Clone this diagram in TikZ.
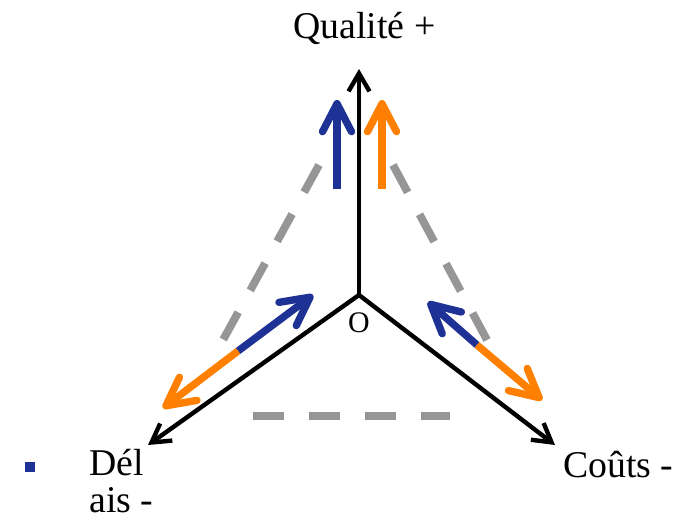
\documentclass[tikz,border=0pt]{standalone}
\usepackage{fontspec}
\setmainfont{Liberation Serif}
\usetikzlibrary{arrows.meta,positioning}
\definecolor{qualcol}{RGB}{30,50,150}
\definecolor{costcol}{RGB}{255,128,0}
\definecolor{guidecol}{RGB}{150,150,150}

\begin{document}
\begin{tikzpicture}[
    axis/.style={line width=2.5pt, -{Straight Barb[length=3.6mm, width=4.2mm]}},
    move/.style={line width=4.2pt, -{Straight Barb[length=5.6mm, width=5.8mm, round]}},
    guide/.style={line width=4.5pt, draw=guidecol, dash pattern=on 0.62cm off 0.5cm},
    axislabel/.style={font=\fontsize{21.5}{18}\selectfont, inner sep=0pt},
]
\useasboundingbox (0,0) rectangle (13.58,10.48);

\draw[guide] (6.38,7.18) -- (4.46,3.68);
\draw[guide] (7.86,7.18) -- (9.74,3.68);
\draw[guide] (5.06,2.16) -- (9.00,2.16);

\coordinate (o) at (7.18,4.58);
\coordinate (qtip) at (7.18,9.10);
\coordinate (dtip) at (2.96,1.58);
\coordinate (ctip) at (11.10,1.58);
\draw[axis] (o) -- (qtip);
\draw[axis] (o) -- (dtip);
\draw[axis] (o) -- (ctip);

\coordinate (qb1) at (6.74,6.70);
\coordinate (qb2) at (6.74,8.48);
\coordinate (qo1) at (7.64,6.70);
\coordinate (qo2) at (7.64,8.48);
\draw[move, qualcol] (qb1) -- (qb2);
\draw[move, costcol] (qo1) -- (qo2);

\coordinate (dmid) at (4.76,3.46);
\coordinate (dblue) at (6.26,4.58);
\coordinate (dorange) at (3.26,2.32);
\draw[move, qualcol] (dmid) -- (dblue);
\draw[move, costcol] (dmid) -- (dorange);

\coordinate (cmid) at (9.54,3.58);
\coordinate (cblue) at (8.56,4.44);
\coordinate (corange) at (10.84,2.48);
\draw[move, qualcol] (cmid) -- (cblue);
\draw[move, costcol] (cmid) -- (corange);

\node[axislabel, anchor=base] (qual) at (7.29,9.70) {Qualité +};
\node[font=\fontsize{17}{18}\selectfont, inner sep=0pt, anchor=base] (orig) at (7.18,3.82) {O};
\node[fill=qualcol, minimum size=0.2cm, inner sep=0pt] (bullet) at (0.60,1.14) {};
\node[axislabel, font=\fontsize{21.5}{20.5}\selectfont, anchor=base west, align=left] (delais) at (1.78,0.24) {Dél\\ais -};
\node[axislabel, anchor=base west] (couts) at (11.26,0.94) {Coûts -};

\end{tikzpicture}
\end{document}
